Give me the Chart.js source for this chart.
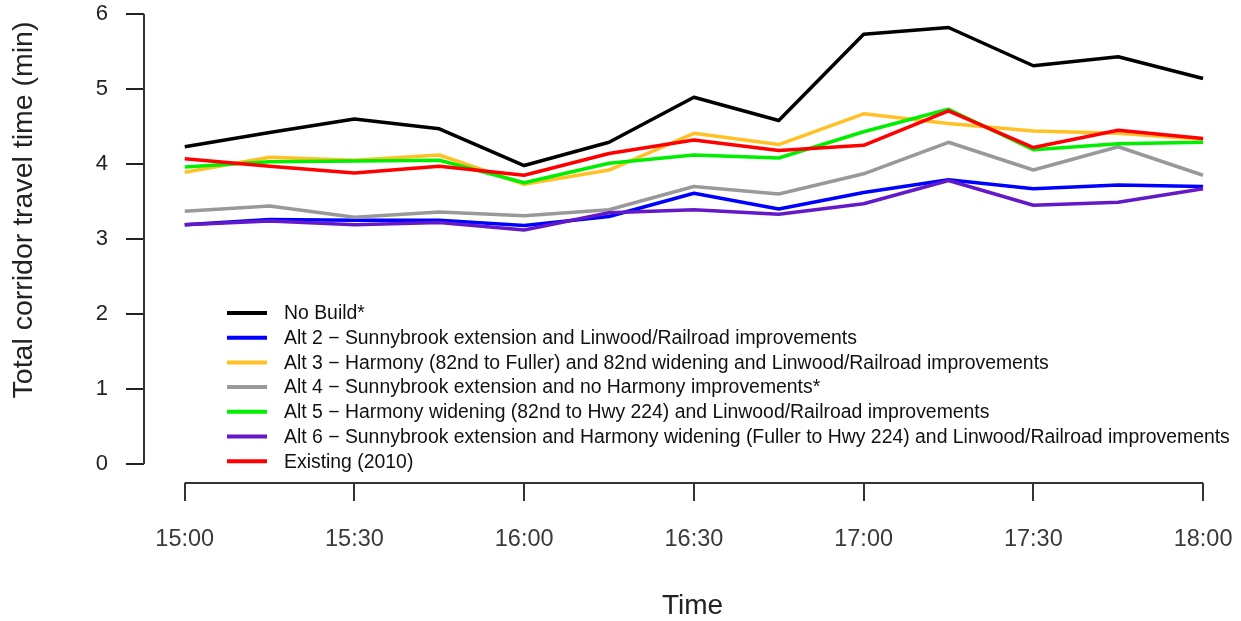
<!DOCTYPE html>
<html><head><meta charset="utf-8">
<script src="https://cdn.jsdelivr.net/npm/chart.js@4/dist/chart.umd.min.js"></script>
<style>html,body{margin:0;padding:0;background:#fff;}#wrap{width:1241px;height:621px;}</style>
</head><body><div id="wrap"><canvas id="c" width="1241" height="621"></canvas></div>
<script>
const categories = ['15:00','15:15','15:30','15:45','16:00','16:15','16:30','16:45','17:00','17:15','17:30','17:45','18:00'];
const xTickLabels = ['15:00','15:30','16:00','16:30','17:00','17:30','18:00'];
const yTickValues = [0,1,2,3,4,5,6];
const seriesNames = [
  'No Build*',
  'Alt 2 \u2212 Sunnybrook extension and Linwood/Railroad improvements',
  'Alt 3 \u2212 Harmony (82nd to Fuller) and 82nd widening and Linwood/Railroad improvements',
  'Alt 4 \u2212 Sunnybrook extension and no Harmony improvements*',
  'Alt 5 \u2212 Harmony widening (82nd to Hwy 224) and Linwood/Railroad improvements',
  'Alt 6 \u2212 Sunnybrook extension and Harmony widening (Fuller to Hwy 224) and Linwood/Railroad improvements',
  'Existing (2010)'
];
const noBuild  = [4.23, 4.42, 4.60, 4.47, 3.98, 4.29, 4.89, 4.58, 5.73, 5.82, 5.31, 5.43, 5.14];
const alt2     = [3.19, 3.26, 3.25, 3.25, 3.18, 3.30, 3.61, 3.40, 3.62, 3.79, 3.67, 3.72, 3.70];
const alt3     = [3.89, 4.09, 4.05, 4.12, 3.73, 3.92, 4.41, 4.26, 4.67, 4.54, 4.44, 4.41, 4.33];
const alt4     = [3.37, 3.44, 3.29, 3.36, 3.31, 3.39, 3.70, 3.60, 3.87, 4.29, 3.92, 4.23, 3.85];
const alt5     = [3.96, 4.03, 4.04, 4.05, 3.75, 4.01, 4.12, 4.08, 4.43, 4.73, 4.19, 4.27, 4.29];
const alt6     = [3.19, 3.24, 3.19, 3.22, 3.12, 3.35, 3.39, 3.33, 3.47, 3.78, 3.45, 3.49, 3.67];
const existing = [4.07, 3.97, 3.88, 3.97, 3.85, 4.14, 4.32, 4.18, 4.25, 4.71, 4.22, 4.45, 4.34];
const seriesValues = [noBuild, alt2, alt3, alt4, alt5, alt6, existing];
const seriesColors = ['#000000','#0000FF','#FFC125','#999999','#00EE00','#6419C8','#FF0000'];

const FONT = "'Liberation Sans', Arial, Helvetica, sans-serif";
Chart.defaults.font.family = FONT;

const datasets = seriesValues.map((vals, i) => ({
  label: seriesNames[i],
  data: vals.map((v, j) => ({x: j, y: v})),
  borderColor: seriesColors[i],
  backgroundColor: seriesColors[i],
  borderWidth: 3.5,
  pointRadius: 0,
  tension: 0,
  borderJoinStyle: 'round',
  fill: false,
  order: seriesValues.length - 1 - i
}));

const decor = {
  id: 'decor',
  afterDraw(chart) {
    const ctx = chart.ctx;
    const xs = chart.scales.x, ys = chart.scales.y;
    const ca = chart.chartArea;
    ctx.save();
    ctx.strokeStyle = '#333';
    ctx.lineWidth = 2;
    ctx.beginPath();
    ctx.moveTo(ca.left, ys.getPixelForValue(yTickValues[0]));
    ctx.lineTo(ca.left, ys.getPixelForValue(yTickValues[yTickValues.length-1]));
    ctx.moveTo(xs.getPixelForValue(0), ca.bottom);
    ctx.lineTo(xs.getPixelForValue(categories.length - 1), ca.bottom);
    ctx.stroke();
    ctx.fillStyle = '#222';
    ctx.font = '28.5px ' + FONT;
    ctx.textAlign = 'center';
    ctx.textBaseline = 'middle';
    ctx.translate(24, 210);
    ctx.rotate(-Math.PI / 2);
    ctx.fillText('Total corridor travel time (min)', 0, 0);
    ctx.restore();

    ctx.save();
    ctx.font = '19.4px ' + FONT;
    ctx.textAlign = 'left';
    ctx.textBaseline = 'middle';
    const lx0 = ca.left + 83, lx1 = ca.left + 123, tx = ca.left + 140;
    const y0 = 313, dy = 24.7;
    seriesNames.forEach((name, i) => {
      const y = y0 + i * dy;
      ctx.strokeStyle = seriesColors[i];
      ctx.lineWidth = 4;
      ctx.beginPath();
      ctx.moveTo(lx0, y);
      ctx.lineTo(lx1, y);
      ctx.stroke();
      ctx.fillStyle = '#111';
      ctx.fillText(name, tx, y + 1);
    });
    ctx.restore();
  }
};

function noPad(scale) {
  scale.paddingTop = 0; scale.paddingBottom = 0;
  scale.paddingLeft = 0; scale.paddingRight = 0;
}

new Chart(document.getElementById('c'), {
  type: 'line',
  data: { datasets },
  options: {
    responsive: false,
    animation: false,
    devicePixelRatio: 1,
    layout: { padding: 0 },
    plugins: { legend: { display: false }, tooltip: { enabled: false } },
    scales: {
      x: {
        type: 'linear',
        min: -0.48,
        max: 12.447,
        afterBuildTicks(scale) {
          scale.ticks = xTickLabels.map((_, k) => ({ value: k * 2 }));
        },
        afterFit(scale) { scale.height = 138; noPad(scale); },
        ticks: {
          callback: (v) => xTickLabels[Math.round(v / 2)],
          font: { size: 23.5 },
          color: '#3a3a3a',
          padding: 24,
          maxRotation: 0,
          autoSkip: false
        },
        grid: { drawOnChartArea: false, drawTicks: true, tickLength: 18, color: '#333', lineWidth: 2 },
        border: { display: false },
        title: { display: true, text: 'Time', font: { size: 28, lineHeight: 1 }, color: '#222', padding: { top: 0, bottom: 1 } }
      },
      y: {
        type: 'linear',
        min: -0.253,
        max: 6.187,
        afterBuildTicks(scale) {
          scale.ticks = yTickValues.map(v => ({ value: v }));
        },
        afterFit(scale) { scale.width = 144; noPad(scale); },
        ticks: { font: { size: 22 }, color: '#222', padding: 18 },
        grid: { drawOnChartArea: false, drawTicks: true, tickLength: 18, color: '#222', lineWidth: 2 },
        border: { display: false }
      }
    }
  },
  plugins: [decor]
});
</script>
</body></html>
